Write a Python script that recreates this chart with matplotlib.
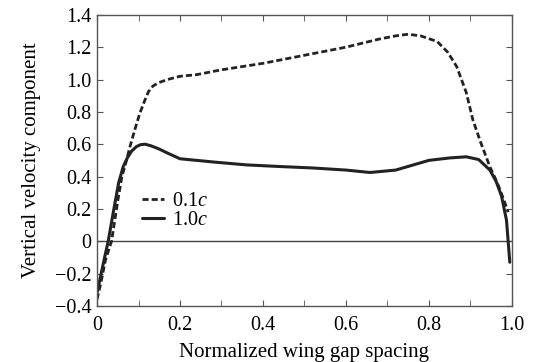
import matplotlib.pyplot as plt
from matplotlib.ticker import MultipleLocator

# ---------------- DATA ----------------
x_01c = [0.0, 0.01, 0.02, 0.035, 0.05, 0.06, 0.071, 0.08, 0.09, 0.103, 0.115, 0.124, 0.135,
         0.148, 0.17, 0.20, 0.24, 0.30, 0.40, 0.46, 0.52, 0.60, 0.68, 0.72, 0.75, 0.78, 0.82,
         0.845, 0.867, 0.89, 0.906, 0.925, 0.947, 0.965, 0.98, 0.991]
y_01c = [-0.36, -0.25, -0.12, 0.0, 0.25, 0.40, 0.50, 0.59, 0.68, 0.79, 0.87, 0.925, 0.96,
         0.98, 1.00, 1.02, 1.03, 1.06, 1.10, 1.13, 1.16, 1.20, 1.25, 1.27, 1.28, 1.27, 1.235,
         1.17, 1.08, 0.92, 0.75, 0.61, 0.46, 0.36, 0.26, 0.18]

x_10c = [0.0, 0.01, 0.02, 0.027, 0.04, 0.052, 0.063, 0.073, 0.083, 0.095, 0.105, 0.116, 0.13,
         0.15, 0.17, 0.20, 0.28, 0.36, 0.44, 0.52, 0.60, 0.658, 0.72, 0.80, 0.85,
         0.89, 0.92, 0.947, 0.962, 0.975, 0.987, 0.995]
y_10c = [-0.32, -0.20, -0.08, 0.0, 0.19, 0.36, 0.46, 0.515, 0.556, 0.585, 0.597, 0.60, 0.59,
         0.57, 0.545, 0.51, 0.49, 0.472, 0.462, 0.453, 0.44, 0.425, 0.44, 0.50, 0.515,
         0.522, 0.505, 0.44, 0.37, 0.28, 0.13, -0.13]

# ---------------- PLOT ----------------
plt.rcParams['font.family'] = ['Liberation Serif', 'DejaVu Serif']
plt.rcParams['mathtext.fontset'] = 'custom'
plt.rcParams['mathtext.it'] = 'Liberation Serif:italic'
plt.rcParams['mathtext.rm'] = 'Liberation Serif'

fig = plt.figure(figsize=(5.36, 3.62), dpi=100)
ax = fig.add_axes([0.181, 0.155, 0.774, 0.804])

ax.axhline(0, color='#444444', lw=1.0)
ax.plot(x_01c, y_01c, color='#222222', lw=2.0, ls=(0, (2.2, 1.1)), label='0.1$c$')
ax.plot(x_10c, y_10c, color='#222222', lw=2.2, solid_capstyle='round', label='1.0$c$')

ax.set_xlim(0, 1.0)
ax.set_ylim(-0.4, 1.4)
ax.xaxis.set_minor_locator(MultipleLocator(0.1))
ax.set_xticks([0, 0.2, 0.4, 0.6, 0.8, 1.0])
ax.set_xticklabels(['0', '0.2', '0.4', '0.6', '0.8', '1.0'])
ax.set_yticks([-0.4, -0.2, 0, 0.2, 0.4, 0.6, 0.8, 1.0, 1.2, 1.4])
ax.set_yticklabels(['\u22120.4', '\u22120.2', '0', '0.2', '0.4', '0.6', '0.8', '1.0', '1.2', '1.4'])
ax.tick_params(which='both', direction='in', top=True, right=True, labelsize=14.5,
               color='#555555', length=4)
ax.tick_params(axis='x', pad=7)
ax.tick_params(axis='y', pad=4)
for s in ax.spines.values():
    s.set_color('#555555')
    s.set_linewidth(1.0)

ax.set_xlabel('Normalized wing gap spacing', fontsize=15, labelpad=6)
ax.set_ylabel('Vertical velocity component', fontsize=15, labelpad=10)

ax.legend(loc='upper left', bbox_to_anchor=(0.083, 0.425), frameon=False, fontsize=14.5,
          handlelength=1.1, handletextpad=0.4, labelspacing=0.0, borderpad=0)

fig.savefig('out.png', dpi=100)
